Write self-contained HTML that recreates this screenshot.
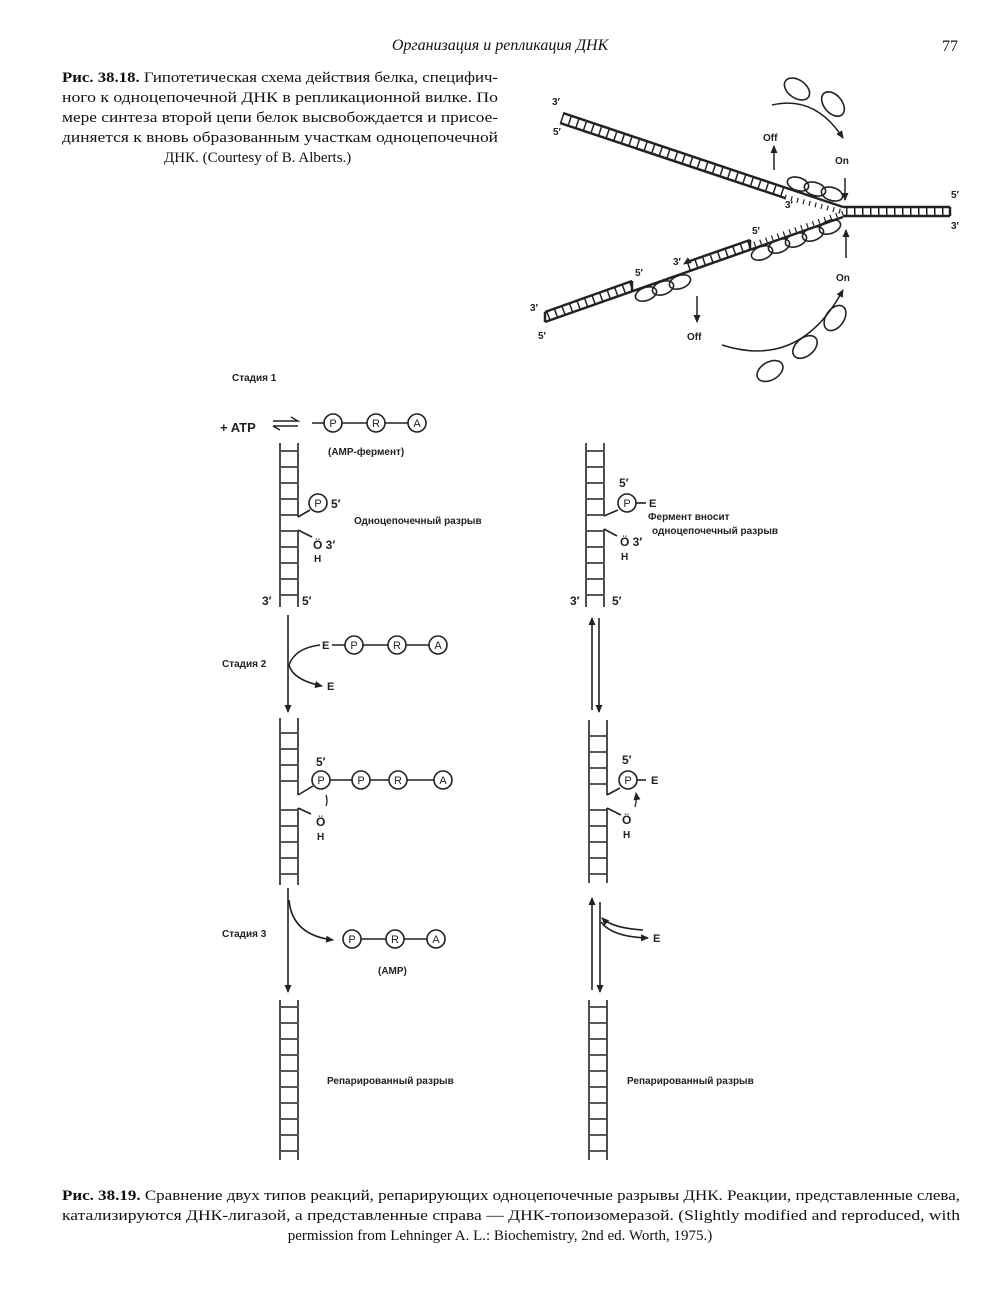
<!DOCTYPE html>
<html><head><meta charset="utf-8"><style>
body{margin:0;background:#fff}
svg{display:block}
.s{font-family:"Liberation Sans","DejaVu Sans",sans-serif;font-weight:bold;fill:#222}
.r{font-family:"Liberation Serif","DejaVu Serif",serif;fill:#111}
</style></head><body>
<svg width="1000" height="1300" viewBox="0 0 1000 1300" xmlns="http://www.w3.org/2000/svg" stroke-linecap="butt">
<defs>
<marker id="ah" markerWidth="8" markerHeight="8" refX="7" refY="4" orient="auto" markerUnits="userSpaceOnUse"><path d="M0,0.5 L8,4 L0,7.5 z" fill="#222"/></marker>
</defs>
<text x="500" y="50" text-anchor="middle" class="r" font-style="italic" font-size="16">Организация и репликация ДНК</text>
<text x="942" y="51" class="r" font-size="16">77</text>
<g class="r" font-size="15">
<text x="62" y="82" textLength="436" lengthAdjust="spacingAndGlyphs"><tspan font-weight="bold">Рис. 38.18.</tspan> Гипотетическая схема действия белка, специфич-</text>
<text x="62" y="102" textLength="436" lengthAdjust="spacingAndGlyphs">ного к одноцепочечной ДНК в репликационной вилке. По</text>
<text x="62" y="122" textLength="436" lengthAdjust="spacingAndGlyphs">мере синтеза второй цепи белок высвобождается и присое-</text>
<text x="62" y="142" textLength="436" lengthAdjust="spacingAndGlyphs">диняется к вновь образованным участкам одноцепочечной</text>
<text x="164" y="162">ДНК. (Courtesy of B. Alberts.)</text>
</g>

<g stroke="#222" fill="none" stroke-width="2.5">
<line x1="563" y1="113" x2="843" y2="207"/>
<line x1="560" y1="123" x2="785" y2="198"/>
<line x1="561.5" y1="118" x2="785" y2="193" stroke-width="9" stroke-dasharray="1.5 6.5"/>
<line x1="785" y1="197" x2="843" y2="212" stroke-width="5" stroke-dasharray="1.2 5" stroke-width="1.2"/>
<line x1="843" y1="207" x2="950" y2="207"/>
<line x1="843" y1="216" x2="950" y2="216"/>
<line x1="950" y1="207" x2="950" y2="216"/>
<line x1="846" y1="211.5" x2="950" y2="211.5" stroke-width="8" stroke-dasharray="1.5 6.5"/>
<line x1="843" y1="217" x2="545" y2="322"/>
<line x1="750" y1="240" x2="687" y2="262"/>
<line x1="750" y1="240" x2="750" y2="250"/>
<line x1="750" y1="245" x2="687" y2="267" stroke-width="9" stroke-dasharray="1.5 6.5"/>
<line x1="843" y1="213" x2="752" y2="245" stroke-width="5" stroke-dasharray="1.2 5"/>
<line x1="632" y1="281" x2="545" y2="312"/>
<line x1="632" y1="281" x2="632" y2="291"/>
<line x1="632" y1="286" x2="547" y2="317" stroke-width="9" stroke-dasharray="1.5 6.5"/>
<line x1="545" y1="312" x2="545" y2="322"/>
<line x1="687" y1="262" x2="684" y2="264" marker-end="url(#ah)" stroke-width="1.5"/>
<line x1="774" y1="170" x2="774" y2="146" marker-end="url(#ah)" stroke-width="1.5"/>
<line x1="845" y1="178" x2="845" y2="200" marker-end="url(#ah)" stroke-width="1.5"/>
<line x1="846" y1="258" x2="846" y2="230" marker-end="url(#ah)" stroke-width="1.5"/>
<line x1="697" y1="296" x2="697" y2="322" marker-end="url(#ah)" stroke-width="1.5"/>
<path d="M772,105 Q815,95 843,138" marker-end="url(#ah)" stroke-width="1.5"/>
<path d="M722,345 Q800,370 843,290" marker-end="url(#ah)" stroke-width="1.5"/>
<g stroke-width="1.6">
<ellipse cx="798" cy="184" rx="11" ry="6.5" transform="rotate(18 798 184)"/>
<ellipse cx="815" cy="189" rx="11" ry="6.5" transform="rotate(18 815 189)"/>
<ellipse cx="832" cy="194" rx="11" ry="6.5" transform="rotate(18 832 194)"/>
<ellipse cx="762" cy="253" rx="11" ry="6.5" transform="rotate(-20 762 253)"/>
<ellipse cx="779" cy="246" rx="11" ry="6.5" transform="rotate(-20 779 246)"/>
<ellipse cx="796" cy="240" rx="11" ry="6.5" transform="rotate(-20 796 240)"/>
<ellipse cx="813" cy="234" rx="11" ry="6.5" transform="rotate(-20 813 234)"/>
<ellipse cx="830" cy="227" rx="11" ry="6.5" transform="rotate(-20 830 227)"/>
<ellipse cx="646" cy="294" rx="11" ry="6.5" transform="rotate(-20 646 294)"/>
<ellipse cx="663" cy="288" rx="11" ry="6.5" transform="rotate(-20 663 288)"/>
<ellipse cx="680" cy="282" rx="11" ry="6.5" transform="rotate(-20 680 282)"/>
<ellipse cx="797" cy="89" rx="14" ry="9" transform="rotate(35 797 89)"/>
<ellipse cx="833" cy="104" rx="14" ry="9" transform="rotate(50 833 104)"/>
<ellipse cx="770" cy="371" rx="14" ry="9" transform="rotate(-30 770 371)"/>
<ellipse cx="805" cy="347" rx="14" ry="9" transform="rotate(-40 805 347)"/>
<ellipse cx="835" cy="318" rx="14" ry="9" transform="rotate(-55 835 318)"/>
</g>
</g>
<g class="s" font-size="10">
<text x="552" y="105">3′</text><text x="553" y="135">5′</text>
<text x="785" y="208">3′</text>
<text x="951" y="198">5′</text><text x="951" y="229">3′</text>
<text x="752" y="234">5′</text><text x="673" y="265">3′</text>
<text x="635" y="276">5′</text>
<text x="530" y="311">3′</text><text x="538" y="339">5′</text>
<text x="763" y="141">Off</text><text x="835" y="164">On</text>
<text x="836" y="281">On</text><text x="687" y="340">Off</text>
</g>

<g stroke="#222" fill="none" stroke-width="1.6">
<line x1="280" y1="443" x2="280" y2="607"/>
<line x1="298" y1="443" x2="298" y2="517"/>
<line x1="298" y1="530" x2="298" y2="607"/>
<path d="M281,451H297M281,467H297M281,483H297M281,499H297M281,515H297M281,531H297M281,547H297M281,563H297M281,579H297M281,595H297"/>
<path d="M298,517 L310,510"/>
<path d="M298,530 L312,537"/>
<circle cx="318" cy="503" r="9"/>
<path d="M273,421 H298 L291,417 M273,426 H298 M273,426 L280,430" stroke-width="1.4"/>
<path d="M312,423H324 M342,423H367 M385,423H408"/>
<circle cx="333" cy="423" r="9"/><circle cx="376" cy="423" r="9"/><circle cx="417" cy="423" r="9"/>
<line x1="288" y1="615" x2="288" y2="712" marker-end="url(#ah)"/>
<path d="M320,645 Q295,648 289,665 Q293,680 322,686" marker-end="url(#ah)"/>
<path d="M332,645H345 M363,645H388 M406,645H429"/>
<circle cx="354" cy="645" r="9"/><circle cx="397" cy="645" r="9"/><circle cx="438" cy="645" r="9"/>
<line x1="280" y1="718" x2="280" y2="885"/>
<line x1="298" y1="718" x2="298" y2="795"/>
<line x1="298" y1="808" x2="298" y2="885"/>
<path d="M281,733H297M281,749H297M281,765H297M281,781H297M281,810H297M281,826H297M281,842H297M281,858H297M281,874H297"/>
<path d="M298,795 L313,786 M298,808 L311,814"/>
<path d="M330,780H352 M370,780H389 M407,780H434"/>
<circle cx="321" cy="780" r="9"/><circle cx="361" cy="780" r="9"/><circle cx="398" cy="780" r="9"/><circle cx="443" cy="780" r="9"/>
<path d="M326,795 Q328,801 326,806" stroke-width="1.3"/>
<line x1="288" y1="888" x2="288" y2="992" marker-end="url(#ah)"/>
<path d="M289,900 Q292,935 333,940" marker-end="url(#ah)"/>
<path d="M361,939H386 M404,939H427"/>
<circle cx="352" cy="939" r="9"/><circle cx="395" cy="939" r="9"/><circle cx="436" cy="939" r="9"/>
<line x1="280" y1="1000" x2="280" y2="1160"/>
<line x1="298" y1="1000" x2="298" y2="1160"/>
<path d="M281,1007H297M281,1023H297M281,1039H297M281,1055H297M281,1071H297M281,1087H297M281,1103H297M281,1119H297M281,1135H297M281,1151H297"/>

<line x1="586" y1="443" x2="586" y2="607"/>
<line x1="604" y1="443" x2="604" y2="516"/>
<line x1="604" y1="529" x2="604" y2="607"/>
<path d="M587,451H603M587,467H603M587,483H603M587,499H603M587,515H603M587,531H603M587,547H603M587,563H603M587,579H603M587,595H603"/>
<path d="M604,516 L618,510 M604,529 L617,536"/>
<circle cx="627" cy="503" r="9"/>
<path d="M636,503H646"/>
<line x1="592" y1="710" x2="592" y2="618" marker-end="url(#ah)"/>
<line x1="599" y1="618" x2="599" y2="712" marker-end="url(#ah)"/>
<line x1="589" y1="720" x2="589" y2="883"/>
<line x1="607" y1="720" x2="607" y2="795"/>
<line x1="607" y1="808" x2="607" y2="883"/>
<path d="M590,736H606M590,752H606M590,768H606M590,784H606M590,810H606M590,826H606M590,842H606M590,858H606M590,874H606"/>
<path d="M607,795 L620,788 M607,808 L621,815"/>
<circle cx="628" cy="780" r="9"/>
<path d="M637,780H646"/>
<path d="M635,807 Q637,800 636,793" marker-end="url(#ah)" stroke-width="1.3"/>
<line x1="592" y1="990" x2="592" y2="898" marker-end="url(#ah)"/>
<line x1="600" y1="902" x2="600" y2="992" marker-end="url(#ah)"/>
<path d="M643,930 Q612,928 602,918" marker-end="url(#ah)"/>
<path d="M601,922 Q612,937 648,938" marker-end="url(#ah)"/>
<line x1="589" y1="1000" x2="589" y2="1160"/>
<line x1="607" y1="1000" x2="607" y2="1160"/>
<path d="M590,1007H606M590,1023H606M590,1039H606M590,1055H606M590,1071H606M590,1087H606M590,1103H606M590,1119H606M590,1135H606M590,1151H606"/>
</g>

<g class="s" font-size="10">
<text x="232" y="381">Стадия 1</text>
<text x="220" y="432" font-size="13">+ ATP</text>
<text x="333" y="427" text-anchor="middle" font-size="11" font-weight="normal">P</text>
<text x="376" y="427" text-anchor="middle" font-size="11" font-weight="normal">R</text>
<text x="417" y="427" text-anchor="middle" font-size="11" font-weight="normal">A</text>
<text x="328" y="455">(АМР-фермент)</text>
<text x="318" y="507" text-anchor="middle" font-size="11" font-weight="normal">P</text>
<text x="331" y="508" font-size="12">5′</text>
<text x="354" y="524">Одноцепочечный разрыв</text>
<text x="313" y="549" font-size="12">Ö 3′</text>
<text x="314" y="562">Н</text>
<text x="262" y="605" font-size="12">3′</text><text x="302" y="605" font-size="12">5′</text>
<text x="222" y="667">Стадия 2</text>
<text x="322" y="649" font-size="11">E</text>
<text x="354" y="649" text-anchor="middle" font-size="11" font-weight="normal">P</text>
<text x="397" y="649" text-anchor="middle" font-size="11" font-weight="normal">R</text>
<text x="438" y="649" text-anchor="middle" font-size="11" font-weight="normal">A</text>
<text x="327" y="690" font-size="11">E</text>
<text x="316" y="766" font-size="12">5′</text>
<text x="321" y="784" text-anchor="middle" font-size="11" font-weight="normal">P</text>
<text x="361" y="784" text-anchor="middle" font-size="11" font-weight="normal">P</text>
<text x="398" y="784" text-anchor="middle" font-size="11" font-weight="normal">R</text>
<text x="443" y="784" text-anchor="middle" font-size="11" font-weight="normal">A</text>
<text x="316" y="826" font-size="12">Ö</text>
<text x="317" y="840">Н</text>
<text x="222" y="937">Стадия 3</text>
<text x="352" y="943" text-anchor="middle" font-size="11" font-weight="normal">P</text>
<text x="395" y="943" text-anchor="middle" font-size="11" font-weight="normal">R</text>
<text x="436" y="943" text-anchor="middle" font-size="11" font-weight="normal">A</text>
<text x="378" y="974">(АМР)</text>
<text x="327" y="1084">Репарированный разрыв</text>
<text x="619" y="487" font-size="12">5′</text>
<text x="627" y="507" text-anchor="middle" font-size="11" font-weight="normal">P</text>
<text x="649" y="507" font-size="11">E</text>
<text x="648" y="520">Фермент вносит</text>
<text x="652" y="534">одноцепочечный разрыв</text>
<text x="620" y="546" font-size="12">Ö 3′</text>
<text x="621" y="560">Н</text>
<text x="570" y="605" font-size="12">3′</text><text x="612" y="605" font-size="12">5′</text>
<text x="622" y="764" font-size="12">5′</text>
<text x="628" y="784" text-anchor="middle" font-size="11" font-weight="normal">P</text>
<text x="651" y="784" font-size="11">E</text>
<text x="622" y="824" font-size="12">Ö</text>
<text x="623" y="838">Н</text>
<text x="653" y="942" font-size="11">E</text>
<text x="627" y="1084">Репарированный разрыв</text>
</g>

<g class="r" font-size="15">
<text x="62" y="1200" textLength="898" lengthAdjust="spacingAndGlyphs"><tspan font-weight="bold">Рис. 38.19.</tspan> Сравнение двух типов реакций, репарирующих одноцепочечные разрывы ДНК. Реакции, представленные слева,</text>
<text x="62" y="1220" textLength="898" lengthAdjust="spacingAndGlyphs">катализируются ДНК-лигазой, а представленные справа — ДНК-топоизомеразой. (Slightly modified and reproduced, with</text>
<text x="500" y="1240" text-anchor="middle">permission from Lehninger A. L.: Biochemistry, 2nd ed. Worth, 1975.)</text>
</g>
</svg>
</body></html>
